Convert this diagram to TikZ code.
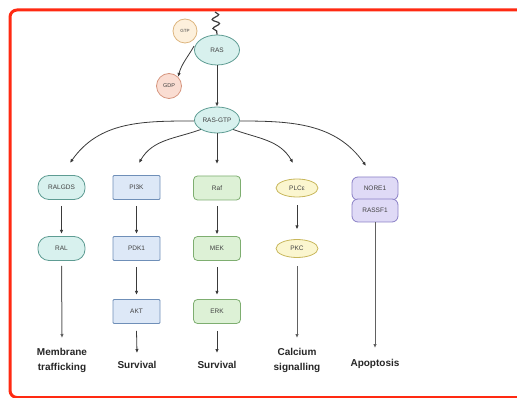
\documentclass[tikz,border=0pt]{standalone}
\usepackage{fontspec}
\setmainfont{Liberation Sans}
\usetikzlibrary{shapes.geometric,arrows.meta,decorations.pathmorphing}
\definecolor{frameR}{HTML}{FF2A12}
\definecolor{tealF}{HTML}{D8F1EE}
\definecolor{tealB}{HTML}{5E9C93}
\definecolor{blueF}{HTML}{DDE8F7}
\definecolor{blueB}{HTML}{6F8FB8}
\definecolor{greenF}{HTML}{DDF1D6}
\definecolor{greenB}{HTML}{7EAE70}
\definecolor{yelF}{HTML}{FBF6CF}
\definecolor{yelB}{HTML}{C8B75C}
\definecolor{purF}{HTML}{DFDAF6}
\definecolor{purB}{HTML}{8A80C6}
\definecolor{gtpF}{HTML}{FDF0DC}
\definecolor{gtpB}{HTML}{DDB57E}
\definecolor{gdpF}{HTML}{FADDD2}
\definecolor{gdpB}{HTML}{D6957E}
\definecolor{arr}{HTML}{3A3A3A}
\tikzset{
  lbl/.style={font=\fontsize{6.5}{7}\selectfont, text=black!75},
  base/.style={lbl, line width=0.8pt, inner sep=0pt, align=center},
  tealell/.style={base, ellipse, draw=tealB, fill=tealF},
  pill/.style={base, rectangle, rounded corners=11pt, draw=tealB, fill=tealF, minimum width=47pt, minimum height=24pt},
  bluebox/.style={base, rectangle, rounded corners=1pt, draw=blueB, fill=blueF, minimum width=47pt, minimum height=24pt},
  greenbox/.style={base, rectangle, rounded corners=4pt, draw=greenB, fill=greenF, minimum width=47pt, minimum height=24pt},
  yelell/.style={base, ellipse, draw=yelB, fill=yelF, minimum width=42pt, minimum height=18pt},
  purbox/.style={base, rectangle, rounded corners=6pt, draw=purB, fill=purF, minimum width=46pt, minimum height=23pt},
  outtxt/.style={font=\fontsize{10}{15}\bfseries\selectfont, text=black!85, align=center, inner sep=0pt},
  arrw/.style={draw=arr, line width=0.8pt, -{Latex[length=4pt,width=3.5pt]}},
  longarrw/.style={draw=arr!80, line width=1pt, -{Latex[length=4pt,width=3.5pt]}},
}
\begin{document}
\begin{tikzpicture}[x=1pt,y=-1pt]
\useasboundingbox (0,0) rectangle (517,398);
\draw[frameR, line width=3pt, rounded corners=7pt] (10,10) rectangle (527,397.5);

% top
\coordinate (sqtop) at (215,12);
\node[tealell, minimum width=45pt, minimum height=30pt] (ras) at (217,50) {RAS};
\draw[arr, line width=1.2pt, decorate, decoration={snake, segment length=9pt, amplitude=3.5pt}] (sqtop) -- (ras.north);
\node[base, circle, draw=gtpB, fill=gtpF, minimum size=24pt, font=\fontsize{4.5}{5}\selectfont] (gtp) at (185,31) {GTP};
\node[base, circle, draw=gdpB, fill=gdpF, minimum size=25pt, font=\fontsize{5.5}{6}\selectfont] (gdp) at (169,86) {GDP};
\draw[arrw] (ras.west) ++(0,-4) to[out=240, in=75] (gdp.north east);
\node[tealell, minimum width=45pt, minimum height=26pt] (rasgtp) at (217,120) {RAS-GTP};
\draw[arrw] (ras.south) -- (rasgtp.north);

% row 1
\node[pill] (ralgds) at (61.5,187.5) {RALGDS};
\node[bluebox] (pi3k) at (136.5,187.5) {PI3K};
\node[greenbox] (raf) at (217,188) {Raf};
\node[yelell] (plce) at (297,188) {PLCε};
\node[purbox] (nore) at (375,188.5) {NORE1};
\node[purbox] (rassf) at (375,210.5) {RASSF1};

% row 2
\node[pill] (ral) at (61.5,248.5) {RAL};
\node[bluebox] (pdk) at (136.5,248.5) {PDK1};
\node[greenbox] (mek) at (217,248.5) {MEK};
\node[yelell] (pkc) at (297,248.5) {PKC};

% row 3
\node[bluebox] (akt) at (136.5,311.5) {AKT};
\node[greenbox] (erk) at (217,311.5) {ERK};

% outputs
\node[outtxt] (memb) at (62,360) {Membrane\\trafficking};
\node[outtxt] (surv1) at (137,365) {Survival};
\node[outtxt] (surv2) at (217,365) {Survival};
\node[outtxt] (calc) at (297,360) {Calcium\\signalling};
\node[outtxt] (apop) at (375,364) {Apoptosis};

% arrow ends
\coordinate (e1) at (62,338);
\coordinate (e2) at (137,353);
\coordinate (e3) at (217,353);
\coordinate (e4) at (297,338);
\coordinate (e5) at (375,348);

% branches from RAS-GTP
\coordinate (t1) at (70,163);
\coordinate (t2) at (139,163);
\coordinate (t3) at (217,164);
\coordinate (t4) at (293,163);
\coordinate (t5) at (366,166);
\draw[arrw] (rasgtp.west) ++(0,1) to[out=180, in=55] (t1);
\draw[arrw] (rasgtp.south west) to[out=200, in=60] (t2);
\draw[arrw] (rasgtp.south) -- (t3);
\draw[arrw] (rasgtp.south east) to[out=-20, in=120] (t4);
\draw[arrw] (rasgtp.east) ++(0,1) to[out=0, in=125] (t5);

% vertical chains
\draw[arrw] (ralgds.south) ++(0,6) -- ++(0,28);
\draw[arrw] (pi3k.south) ++(0,6) -- ++(0,28);
\draw[arrw] (raf.south) ++(0,6) -- ++(0,28);
\draw[arrw] (plce.south) ++(0,8) -- ++(0,24);
\draw[arrw] (pdk.south) ++(0,6) -- ++(0,28);
\draw[arrw] (mek.south) ++(0,6) -- ++(0,28);

\draw[longarrw] (ral.south) ++(0,5) -- (e1);
\draw[arrw] (akt.south) ++(0,7) -- (e2);
\draw[arrw] (erk.south) ++(0,7) -- (e3);
\draw[longarrw] (pkc.south) ++(0,8) -- (e4);
\draw[longarrw] (rassf.south) -- (e5);
\end{tikzpicture}
\end{document}
